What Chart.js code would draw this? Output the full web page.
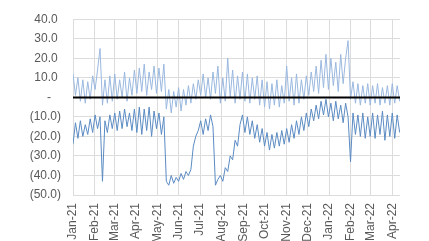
<!DOCTYPE html>
<html>
<head>
<meta charset="utf-8">
<script src="https://cdn.jsdelivr.net/npm/chart.js@4/dist/chart.umd.min.js"></script>
<style>
  html, body { margin: 0; padding: 0; background: #ffffff; }
  #wrap { width: 429px; height: 241px; }
</style>
</head>
<body>
<div id="wrap"><canvas id="lineChart" width="429" height="241"></canvas></div>
<script>
// month ticks on the x axis
var monthLabels = ['Jan-21','Feb-21','Mar-21','Apr-21','May-21','Jun-21','Jul-21','Aug-21',
  'Sep-21','Oct-21','Nov-21','Dec-21','Jan-22','Feb-22','Mar-22','Apr-22'];
var monthDates = ['2021-01-01','2021-02-01','2021-03-01','2021-04-01','2021-05-01','2021-06-01',
  '2021-07-01','2021-08-01','2021-09-01','2021-10-01','2021-11-01','2021-12-01',
  '2022-01-01','2022-02-01','2022-03-01','2022-04-01'];

// one reading every half week, starting 1 Jan 2021
var sampleDays = 3.5;
var lastDay = 466;

var upperSeries = [
  12, 1, 10, -2, 9, -3, 8, -1, 11,        // Jan-21
  4, 14, 25, -4, 9, -3, 11, -2,           // Feb-21
  12, -1, 9, 0, 13, -2, 10, 1, 14,        // Mar-21
  2, 15, 3, 17, 1, 13, 4, 16, 2,          // Apr-21
  15, 3, 17, -6, 4, -8, 3, -5, 5,         // May-21
  -7, 4, -4, 6, -3, 7, -1, 9,             // Jun-21
  1, 12, 0, 10, -1, 13, 2, 16, -3,        // Jul-21
  10, -2, 20, 0, 14, -3, 11, -1, 13,      // Aug-21
  -2, 12, -3, 10, -1, 11, -4, 9,          // Sep-21
  -5, 8, -6, 7, -4, 9, -5, 6, -3,         // Oct-21
  16, -2, 10, -4, 12, -3, 9, -1, 11,      // Nov-21
  1, 13, 3, 16, 2, 19, 5, 22, 4,          // Dec-21
  20, 6, 18, 3, 22, 7, 20, 29,            // Jan-22
  -1, 8, -3, 7, -4, 6, -3, 7,             // Feb-22
  -4, 6, -3, 7, -4, 5, -3, 6, -4,         // Mar-22
  7, -3, 6, -2                            // Apr-22
];

var lowerSeries = [
  -24, -13, -21, -12, -20, -14, -19, -11, -18,   // Jan-21
  -9, -16, -10, -43, -12, -18, -9, -16,          // Feb-21
  -8, -17, -7, -16, -6, -15, -8, -17, -6,        // Mar-21
  -18, -5, -19, -6, -17, -5, -20, -7, -16,       // Apr-21
  -8, -19, -10, -43, -45, -40, -44, -41, -43,    // May-21
  -39, -42, -38, -40, -37, -25, -20, -17,        // Jun-21
  -12, -19, -11, -17, -9, -15, -45, -42, -40,    // Jul-21
  -43, -36, -38, -30, -32, -22, -25, -14, -9,    // Aug-21
  -18, -10, -19, -12, -21, -14, -23, -16,        // Sep-21
  -25, -18, -27, -19, -26, -18, -25, -17, -24,   // Oct-21
  -16, -23, -14, -21, -12, -19, -10, -17, -8,    // Nov-21
  -15, -6, -12, -4, -11, -2, -9, -1, -10,        // Dec-21
  -3, -12, -2, -11, -4, -13, -3, -10,            // Jan-22
  -33, -8, -19, -9, -20, -8, -21, -10,           // Feb-22
  -20, -8, -21, -9, -19, -7, -22, -9, -20,       // Mar-22
  -8, -21, -9, -18                               // Apr-22
];

var yMin = -50, yMax = 40, yStep = 10;

function dayOffset(s) {
  var p = s.split('-');
  return (Date.UTC(+p[0], +p[1] - 1, +p[2]) - Date.UTC(2021, 0, 1)) / 86400000;
}
var monthTicks = monthDates.map(dayOffset);

function toPoints(arr) {
  return arr.map(function (v, i) { return { x: i * sampleDays, y: v }; });
}

function fmt(v) {
  if (v === 0) return '-   ';
  if (v < 0) return '(' + (-v).toFixed(1) + ')';
  return v.toFixed(1) + ' ';
}

var zeroLine = {
  id: 'zeroLine',
  afterDatasetsDraw: function (chart) {
    var ctx = chart.ctx, area = chart.chartArea;
    var y = Math.round(chart.scales.y.getPixelForValue(0)) + 0.5;
    ctx.save();
    ctx.strokeStyle = '#000000';
    ctx.lineWidth = 2;
    ctx.beginPath();
    ctx.moveTo(area.left, y);
    ctx.lineTo(area.right, y);
    ctx.stroke();
    ctx.restore();
  }
};

var ctx = document.getElementById('lineChart').getContext('2d');
var lineChart = new Chart(ctx, {
  type: 'line',
  data: {
    datasets: [{
      label: 'upper',
      data: toPoints(upperSeries),
      borderColor: '#9ab8df',
      borderWidth: 1,
      pointRadius: 0,
      tension: 0,
      fill: false
    }, {
      label: 'lower',
      data: toPoints(lowerSeries),
      borderColor: '#5b8bc3',
      borderWidth: 1,
      pointRadius: 0,
      tension: 0,
      fill: false
    }]
  },
  options: {
    responsive: false,
    animation: false,
    layout: { padding: { top: 16, right: 29, bottom: 0, left: 0 } },
    plugins: {
      legend: { display: false },
      tooltip: { enabled: false }
    },
    scales: {
      x: {
        type: 'linear',
        min: 0,
        max: lastDay,
        afterBuildTicks: function (scale) {
          scale.ticks = monthTicks.map(function (d) { return { value: d }; });
        },
        afterFit: function (scale) { scale.height = 46; },
        ticks: {
          autoSkip: false,
          minRotation: 90,
          maxRotation: 90,
          padding: 8,
          color: '#595959',
          font: { family: 'Liberation Sans', size: 12 },
          callback: function (value, index) { return monthLabels[index]; }
        },
        grid: { color: '#dcdcdc', lineWidth: 1, drawTicks: false },
        border: { display: false }
      },
      y: {
        min: yMin,
        max: yMax,
        afterFit: function (scale) { scale.width = 73; },
        ticks: {
          stepSize: yStep,
          padding: 12,
          color: '#595959',
          font: { family: 'Liberation Sans', size: 12 },
          callback: function (value) { return fmt(value); }
        },
        grid: { color: '#dcdcdc', lineWidth: 1, drawTicks: false },
        border: { display: false }
      }
    }
  },
  plugins: [zeroLine]
});
</script>
</body>
</html>
